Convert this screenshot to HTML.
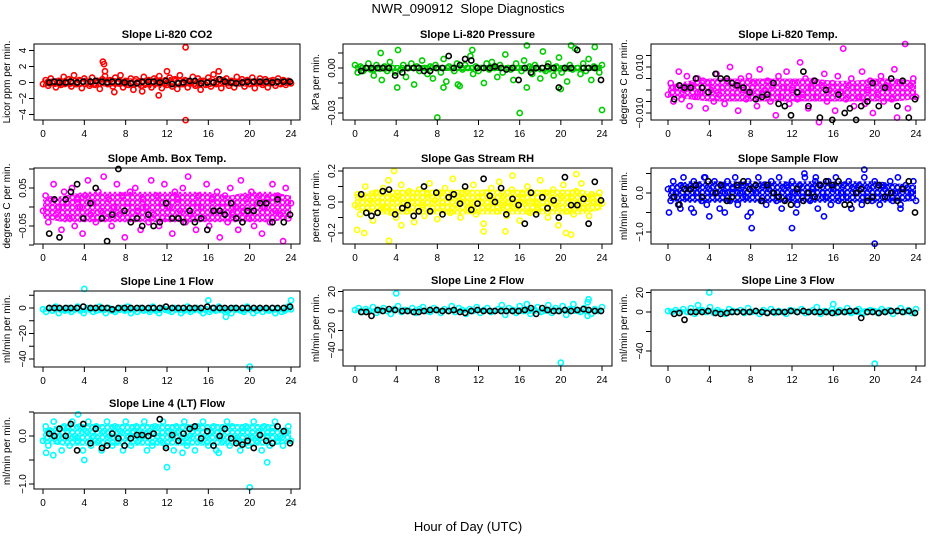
<!DOCTYPE html>
<html><head><meta charset="utf-8">
<style>
html,body{margin:0;padding:0;background:#fff;}
svg{display:block;font-family:"Liberation Sans",sans-serif;}
</style></head>
<body>
<svg id="chart" width="936" height="540" viewBox="0 0 936 540">
<defs id="defs"></defs>
<text x="468" y="13" text-anchor="middle" font-size="13" xml:space="preserve">NWR_090912  Slope Diagnostics</text>
<text x="468" y="531" text-anchor="middle" font-size="13">Hour of Day (UTC)</text>
</svg>
<script>
const hourTicks = [0,4,8,12,16,20,24];
const bandHours = [0,2,4,6,8,10,12,14,16,18,20,22,24];
const blackHours = [0.6,1.1,1.6,2.2,2.7,3.3,3.9,4.6,5.1,5.7,6.2,6.7,7.3,7.9,8.5,9.1,9.6,10.2,10.7,11.3,11.9,12.5,13.1,13.6,14.2,14.7,15.3,15.9,16.5,17.1,17.6,18.2,18.7,19.3,19.8,20.4,21.0,21.6,22.2,22.7,23.3,23.9];

const co2Values = [-0.2,0.3,-0.4,0.5,0.1,-0.6,0.2,-0.3,0.7,-0.1,0.4,-0.5,0.9,-0.2,0.3,-0.7,0.5,0.1,-0.4,0.6,-0.3,0.2,-0.8,0.4,0.8,-0.2,0.3,-0.5,0.6,-0.1,0.9,-0.6,0.2,-0.3,0.5,-0.9,0.4,0.1,-0.4,0.7,-0.2,0.3,-0.6,0.5,-0.1,0.8,-0.7,0.2,-0.3,0.6,-0.5,0.4,-0.8,0.9,-0.2,0.3,-0.6,0.1,0.7,-0.4,0.5,-0.9,0.2,-0.3,0.6,-0.5,1.0,-0.2,0.4,-0.7,0.3,0.5,-0.4,0.2,-0.6,0.7,-0.1,0.4,-0.5,0.3,-0.2,0.6,-0.7,0.1,0.5,-0.3,0.4,-0.6,0.2,0.3,-0.4,0.5,-0.2,0.3,-0.3,0.2,-0.1];
const co2OutHours = [5.8,5.9,6.9,11.2,12.0,13.8,13.8,17.0,6.0,9.6];
const co2OutValues = [2.6,2.3,-1.2,-1.6,1.4,4.4,-4.7,1.4,1.4,-1.1];
const co2Black = [0,0.1,0,0,0.1,0,0.1,0.1,0.2,0.1,0,0.1,0.1,0,-0.1,-0.1,0.1,0.1,0.1,0,0.2,-0.2,-0.1,0,0.2,0.2,-0.1,0,0,0.4,0.1,0,-0.1,0,0.1,0.1,0.1,0.1,0,0.1,0.1,0.1];
const co2BandLow = [-0.5,-0.6,-0.6,-0.5,-0.6,-0.7,-0.7,-0.6,-0.6,-0.5,-0.5,-0.5,-0.4];
const co2BandHigh = [0.4,0.6,0.6,0.6,0.5,0.6,0.7,0.6,0.6,0.5,0.5,0.5,0.4];

const presValues = [2,-3,1,-2,0,3,-1,-5,2,0,-8,1,-2,4,0,-3,12,-1,2,-6,0,3,-11,1,-2,5,0,-4,1,-7,2,0,-3,6,-9,1,0,-2,3,-12,-1,2,0,8,-4,1,-2,0,-10,3,-1,4,0,-6,2,-3,9,0,-1,-8,3,0,-2,5,-13,1,-4,2,0,-7,11,-2,3,0,-5,1,7,-3,0,-9,2,-1,13,0,-4,3,-2,6,-8,1,0,-3,2];
const presOutHours = [8.0,16.0,24.0,4.1,2.5,11.4,16.7,21.0,23.3,20.0,8.6,10.0];
const presOutValues = [-33,-30,-28,-13,10,12,15,15,14,-14,-13,-11];
const presBlack = [-2,0,0,0,0,0,-5,-3,0,0,0,-2,-2,0,0,8,0,2,6,5,0,0,0,1,0,-1,0,-8,0,-3,0,0,1,0,-13,0,0,12,0,0,0,-8];
const presBandLow = [-3,-3,-2,-2,-2,-2,-2,-2,-2,-3,-3,-2,-2];
const presBandHigh = [2,2,2,2,2,2,2,2,2,2,2,2,2];

const tempValues = [-2,3,-5,1,8,-4,0,6,-7,2,-3,5,-1,4,-8,3,0,-5,7,-2,1,-6,4,10,-3,2,-9,5,0,-4,6,-1,3,-7,9,-2,0,4,-5,2,-11,6,-3,1,8,-6,0,3,-4,12,-2,5,-8,1,4,-3,-14,2,7,-5,0,3,-9,6,-1,18,-4,2,5,-7,1,-3,8,-6,0,4,-10,3,-2,6,-5,2,1,-4,9,-12,3,-1,20,-8,2,5,-3];
const tempBlack = [-4,2,1,1,5,1,-1,7,5,5,3,2,1,-1,-4,-3,-2,3,-6,-7,-11,-1,8,-7,4,-12,0,-13,-2,-10,-8,-13,-7,-5,3,-7,1,5,-7,4,-12,-4];
const tempBandLow = [-3,-4,-5,-5,-5,-5,-5,-5,-5,-5,-5,-5,-4];
const tempBandHigh = [2,4,5,5,5,5,5,5,4,4,5,5,4];

const ambValues = [-1,3,-4,2,6,-2,0,-6,4,1,-3,5,-5,2,0,-7,3,7,-2,1,-4,4,-1,8,-3,2,-5,0,6,-2,3,-8,1,4,-3,5,-1,-6,2,0,-4,7,-2,3,-5,1,6,-3,0,-7,4,2,-1,5,-4,8,-2,1,-6,3,0,-3,6,-5,2,-1,4,-8,1,3,-4,5,-2,0,-6,7,-1,2,-3,4,-5,1,3,-7,0,2,-4,6,-1,3,-2,-9,5,-3,1];
const ambBlack = [-7,2,-8,2,4,6,-3,1,5,-3,-9,-2,10,-1,-4,-3,-5,-2,-5,-4,1,-3,-3,-4,-1,-4,-3,-6,-1,-1,-2,1,-3,-4,-1,-1,1,1,-4,2,-4,-2];
const ambBandLow = [-3,-4,-4,-4,-4,-4,-4,-4,-4,-4,-4,-4,-3];
const ambBandHigh = [2,3,4,4,4,4,4,4,4,3,4,4,3];

const rhValues = [-2,5,-8,3,10,-4,1,-12,6,0,-5,9,-3,14,-7,2,-10,4,11,-1,-6,7,0,-13,3,8,-2,-9,5,12,-4,1,-11,6,-3,9,0,-7,15,-2,4,-10,2,7,-5,-1,11,-8,3,0,-14,6,-3,9,1,-6,13,-2,4,-9,0,8,-4,2,-12,5,-1,10,-7,3,0,-5,14,-3,6,-10,1,8,-2,-15,4,11,-6,0,3,-8,7,-1,12,-4,2,-9,5,0,-3,6,-1];
const rhOutHours = [3.3,0.2,0.9,4.5,12.5,14.6,20.5,21.0,3.8,21.5,15.3];
const rhOutValues = [-25,-18,-20,-15,-19,-19,-20,-21,20,18,17];
const rhBlack = [5,-7,-9,-7,7,8,-8,-4,-2,-9,-6,10,-6,6,-8,3,5,-1,10,-5,-1,15,4,0,9,-8,2,-2,-14,6,-8,3,-4,1,-10,16,-2,-2,2,-14,13,1];
const rhBandLow = [-5,-8,-8,-8,-8,-8,-8,-8,-8,-8,-8,-8,-5];
const rhBandHigh = [5,8,8,8,8,8,8,8,8,8,8,8,5];

const flowValues = [1,-2,3,0,-3,2,4,-1,1,-4,3,0,2,-2,4,-3,1,0,3,-1,-4,2,0,3,-2,1,4,-3,0,2,-1,3,-5,1,0,4,-2,2,-3,1,3,0,-2,4,-4,1,2,-1,3,0,-3,2,-1,4,0,-2,1,3,-4,2,0,-1,3,-3,1,4,-2,0,2,-1,3,-4,1,0,2,-3,4,-1,1,-2,3,0,-3,2,1,-1,3,-2,0,4,-3,1,2,-1,0,3,-2];
const flowOutHours = [0.1,1.2,2.5,4.0,5.5,7.7,8.1,12.0,12.4,13.2,14.3,15.1,19.0,20.0,22.5,3.6];
const flowOutValues = [-5,-4,-5,-6,-5,-6,-9,-9,-5,5,4,-6,6,-13,-4,4];
const flowBlack = [-1,-3,1,1,2,-1,3,0,2,-2,-1,2,3,1,2,-2,2,0,-1,-2,-3,1,-2,0,-1,2,3,2,3,-3,-3,0,1,-2,-1,2,-1,0,-2,1,3,-5];
const flowBandLow = [-2,-2.5,-2.5,-2.5,-2.5,-2.5,-2.5,-2.5,-2.5,-2.5,-2.5,-2.5,-2];
const flowBandHigh = [2,3,3,3,3,3,3,3,3,3,3,2.5,2];

const line1Values = [-1,-3,0,-2,1,-4,-1,-2,0,-3,-1,1,-2,-4,0,-1,-3,-2,1,-1,-4,0,-2,-3,-1,0,-2,1,-4,-1,-3,0,-2,-1,-3,1,-2,-4,0,-1,-2,-3,0,-1,-4,-2,1,-3,-1,0,-2,-4,-1,-3,0,-2,1,-1,-3,-2,-4,0,-1,-2,-3,1,-1,-4,-2,0,-3,-1,-2,0,-4,-1,-3,-2,1,-1];
const line1OutHours = [4.0,16.0,24.0,20.0,17.7];
const line1OutValues = [15,6,6,-46,-7];
const line1Black = [0,0,0,0,0,0,1,0,0,0,0,-1,0,0,0,0,0,0,0,0,1,0,0,0,0,0,0,1,0,0,0,0,0,0,0,0,0,0,0,0,0,1];
const line1BandLow = [-3,-4,-4,-4,-4,-4,-4,-4,-4,-4,-4,-4,-3];
const line1BandHigh = [1,1,1,1,1,1,1,1,1,1,1,1,1];

const line2Values = [1,3,-1,2,0,4,-2,1,3,0,-3,2,5,-1,1,0,3,-2,2,4,0,-1,3,1,-2,2,0,5,-1,3,1,-3,2,0,4,-2,1,3,-1,0,2,6,-4,3,1,-2,5,0,7,-3,2,4,-1,1,6,-2,3,0,5,-4,2,7,1,-1,3,9,-3,2,0,4];
const line2OutHours = [4.0,20.0,22.7,22.6];
const line2OutValues = [18,-53,12,-5];
const line2Black = [-1,-1,-5,1,0,2,1,0,0,-1,-1,0,1,1,0,0,1,-1,-2,0,1,0,0,0,0,0,0,0,1,3,-3,3,1,0,0,1,0,1,2,1,0,0];
const line2BandLow = [-2,-2,-2,-2,-2,-2,-2,-2,-3,-3,-3,-3,-2];
const line2BandHigh = [3,3,3,3,3,3,3,3,4,4,4,4,3];

const line3Values = [1,0,2,-1,3,0,4,-2,1,2,0,5,-1,2,0,-2,3,1,0,2,-1,4,0,1,-2,2,0,3,-1,1,0,-2,2,1,0,3,-1,0,2,5,-2,1,0,3,-1,2,0,4,-1,1,3,-2,0,2,1,-1,3,0,2,-2,1,4,0,2,-1,3];
const line3OutHours = [4.0,20.0,16.0,2.9];
const line3OutValues = [20,-53,8,7];
const line3Black = [-2,-1,-8,0,0,0,1,-1,-2,-1,0,0,0,0,1,0,-1,0,0,0,1,0,1,0,0,0,0,-1,0,0,1,1,-6,0,0,-1,0,1,1,0,1,-1];
const line3BandLow = [-2,-2,-2,-2,-2,-2,-2,-2,-2,-3,-3,-2,-2];
const line3BandHigh = [3,3,3,3,3,3,3,3,3,4,4,3,3];

const line4Values = [-1,2,-2,1,3,-1,0,-3,2,1,-2,3,0,-1,2,-3,1,3,-2,0,2,-1,-3,1,3,0,-2,2,-1,1,-3,3,0,-2,1,2,-1,0,3,-3,1,-2,2,0,-1,3,-2,1,0,-3,2,1,-1,3,-2,0,1,-3,2,-1,3,0,-2,1,2,-3,0,1,-1,3,-2,2,0,-1,-3,1,2,-2,0,3,-1,1,-3,2,0,-2,1,3,-1,0,-2,1,2,-1];
const line4OutHours = [4.0,12.0,21.7,20.0,3.4,1.0,17.0,0.3,13.5];
const line4OutValues = [-5,-6.5,-5.5,-10.7,4.5,-4,-3.5,-3.5,-3.5];
const line4Black = [0.5,0,1.5,0,2.5,-3,2.5,-1.5,1.5,-2.5,-2,0.5,-0.5,-2,-0.5,0.2,0.2,0,0.5,3.5,-2.5,0.2,-1,0.5,1.5,2,-0.5,1,-2,0,1.5,-0.5,-1.5,-1.8,-1,-2.5,0.2,-1,-1.5,2,1,-1.5];
const line4BandLow = [-1.5,-2,-2,-2,-2,-2,-2,-2,-2,-2,-2,-2,-1.5];
const line4BandHigh = [1.5,2.5,2.5,2.5,2.5,2.5,2.5,2.5,2.5,2.5,2.5,2.5,1.5];

const panels = [
 {name:'co2',title:'Slope Li-820 CO2',ylab:'Licor ppm per min.',col:'#ff0000',bx:34,bw:266,by:44,x0:43,x24:291,zy:82.5,ppu:8,ticks:[4,2,0,-2,-4],labels:['4','2','0','−2','−4'],vals:co2Values,oh:co2OutHours,ov:co2OutValues,blk:co2Black,lo:co2BandLow,hi:co2BandHigh},
 {name:'pressure',title:'Slope Li-820 Pressure',ylab:'kPa per min.',col:'#00cc00',bx:343,bw:269,by:44,x0:355,x24:602,zy:68,ppu:1.5,ticks:[10,0,-10,-20,-30],labels:['','0.00','','','−0.03'],vals:presValues,oh:presOutHours,ov:presOutValues,blk:presBlack,lo:presBandLow,hi:presBandHigh},
 {name:'temp',title:'Slope Li-820 Temp.',ylab:'degrees C per min.',col:'#ff00ff',bx:651,bw:274,by:44,x0:668,x24:916,zy:90,ppu:2.3,ticks:[15,10,5,0,-5,-10],labels:['','0.010','','','','−0.010'],vals:tempValues,oh:[],ov:[],blk:tempBlack,lo:tempBandLow,hi:tempBandHigh},
 {name:'amb-temp',title:'Slope Amb. Box Temp.',ylab:'degrees C per min.',col:'#ff00ff',bx:34,bw:266,by:168,x0:43,x24:291,zy:207,ppu:3.8,ticks:[10,5,0,-5,-10],labels:['','0.05','','−0.05',''],vals:ambValues,oh:[],ov:[],blk:ambBlack,lo:ambBandLow,hi:ambBandHigh},
 {name:'rh',title:'Slope Gas Stream RH',ylab:'percent per min.',col:'#ffff00',bx:343,bw:269,by:168,x0:355,x24:602,zy:202,ppu:1.55,ticks:[20,10,0,-10,-20],labels:['0.2','','0.0','','−0.2'],vals:rhValues,oh:rhOutHours,ov:rhOutValues,blk:rhBlack,lo:rhBandLow,hi:rhBandHigh},
 {name:'sample-flow',title:'Slope Sample Flow',ylab:'ml/min per min.',col:'#0000ff',bx:651,bw:274,by:168,x0:668,x24:916,zy:193,ppu:3.9,ticks:[5,0,-5,-10],labels:['','0.0','','−1.0'],vals:flowValues,oh:flowOutHours,ov:flowOutValues,blk:flowBlack,lo:flowBandLow,hi:flowBandHigh},
 {name:'line1-flow',title:'Slope Line 1 Flow',ylab:'ml/min per min.',col:'#00ffff',bx:34,bw:266,by:291,x0:43,x24:291,zy:308,ppu:1.275,ticks:[10,0,-10,-20,-30,-40],labels:['','0','','−20','','−40'],vals:line1Values,oh:line1OutHours,ov:line1OutValues,blk:line1Black,lo:line1BandLow,hi:line1BandHigh},
 {name:'line2-flow',title:'Slope Line 2 Flow',ylab:'ml/min per min.',col:'#00ffff',bx:343,bw:269,by:290,x0:355,x24:602,zy:311,ppu:0.975,ticks:[20,0,-20,-40],labels:['20','0','−20','−40'],vals:line2Values,oh:line2OutHours,ov:line2OutValues,blk:line2Black,lo:line2BandLow,hi:line2BandHigh},
 {name:'line3-flow',title:'Slope Line 3 Flow',ylab:'ml/min per min.',col:'#00ffff',bx:651,bw:274,by:290,x0:668,x24:916,zy:312,ppu:0.975,ticks:[20,0,-20,-40],labels:['20','0','','−40'],vals:line3Values,oh:line3OutHours,ov:line3OutValues,blk:line3Black,lo:line3BandLow,hi:line3BandHigh},
 {name:'line4-flow',title:'Slope Line 4 (LT) Flow',ylab:'ml/min per min.',col:'#00ffff',bx:34,bw:266,by:413,x0:43,x24:291,zy:436,ppu:4.8,ticks:[5,0,-5,-10],labels:['','0.0','','−1.0'],vals:line4Values,oh:line4OutHours,ov:line4OutValues,blk:line4Black,lo:line4BandLow,hi:line4BandHigh}
];
const BH = 76;
const svg = document.getElementById('chart');
const defs = document.getElementById('defs');
const NS = 'http://www.w3.org/2000/svg';
function mk(tag, attrs, parent){
  const e = document.createElementNS(NS, tag);
  for (const k in attrs) e.setAttribute(k, attrs[k]);
  parent.appendChild(e);
  return e;
}
function dot(g, x, y, color){
  const c = mk('circle', {cx:x.toFixed(1), cy:y.toFixed(1), r:2.6, fill:'none', stroke:color, 'stroke-width':1.6}, g);
  
  
}
panels.forEach((p, pi) => {
  // speckle pattern for the dense band
  const pat = mk('pattern', {id:'pat'+pi, width:5, height:5, patternUnits:'userSpaceOnUse'}, defs);
  mk('circle', {cx:2.5, cy:2.5, r:2.1, fill:'none', stroke:p.col, 'stroke-width':1.5}, pat);
  mk('rect', {x:0, y:0, width:1.2, height:1.2, fill:p.col}, pat);

  const g = mk('g', {}, svg);
  
  
  const xs = h => p.x0 + (p.x24 - p.x0) * h / 24;
  const ys = v => p.zy - v * p.ppu;
  const cx = p.bx + p.bw / 2;
  const t = mk('text', {x:cx, y:p.by - 6, 'text-anchor':'middle', 'font-size':11, 'font-weight':'bold'}, g);
  t.textContent = p.title;
  
  
  const yl = mk('text', {x:0, y:0, 'text-anchor':'middle', 'font-size':10, transform:`translate(${p.bx-24},${p.by+BH/2}) rotate(-90)`}, g);
  yl.textContent = p.ylab;
  
  
  const pts = bandHours.map((h,i) => xs(h).toFixed(1)+','+ys(p.hi[i]).toFixed(1))
    .concat(bandHours.map((h,i) => xs(h).toFixed(1)+','+ys(p.lo[i]).toFixed(1)).reverse()).join(' ');
  const band = mk('polygon', {points:pts, fill:'url(#pat'+pi+')', stroke:'none'}, g);
  
  
  const pg = mk('g', {}, g);
  
  
  const n = p.vals.length;
  p.vals.forEach((v, i) => dot(pg, xs(24 * i / (n - 1)), ys(v), p.col));
  p.oh.forEach((h, i) => dot(pg, xs(h), ys(p.ov[i]), p.col));
  const bg = mk('g', {}, g);
  
  
  p.blk.forEach((v, i) => dot(bg, xs(blackHours[i]), ys(v), '#000'));
  const box = mk('rect', {x:p.bx, y:p.by, width:p.bw, height:BH, fill:'none', stroke:'#000', 'stroke-width':1}, g);
  
  
  hourTicks.forEach(h => {
    const x = xs(h);
    mk('line', {x1:x, x2:x, y1:p.by + BH, y2:p.by + BH + 5, stroke:'#000'}, g);
    const tl = mk('text', {x:x, y:p.by + BH + 17, 'text-anchor':'middle', 'font-size':10}, g);
    tl.textContent = h;
    
    
  });
  p.ticks.forEach((v, i) => {
    const y = ys(v);
    mk('line', {x1:p.bx - 5, x2:p.bx, y1:y, y2:y, stroke:'#000'}, g);
    if (p.labels[i]) {
      const tl = mk('text', {x:0, y:0, 'text-anchor':'middle', 'font-size':10, transform:`translate(${p.bx-8},${y}) rotate(-90)`}, g);
      tl.textContent = p.labels[i];
      
      
    }
  });
});
</script>
</body></html>
